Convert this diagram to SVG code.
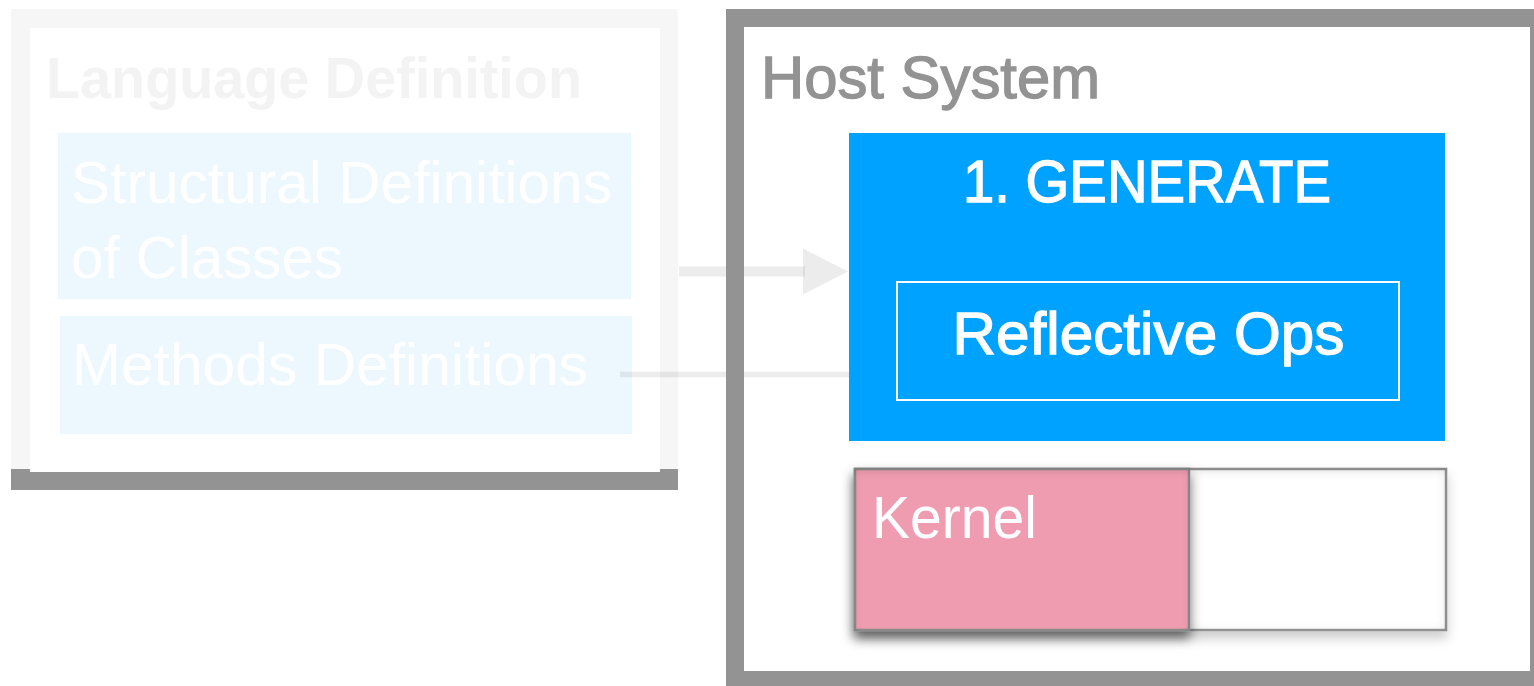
<svg xmlns="http://www.w3.org/2000/svg" width="1534" height="686" viewBox="0 0 1534 686">
  <defs>
    <style>
      .sans { font-family: "Liberation Sans", Arial, Helvetica, sans-serif; }
      .title { font-size: 58px; font-weight: bold; fill: #f3f3f3; }
      .host-title { font-size: 59px; fill: #939393; stroke: #939393; stroke-width: 1.3px; }
      .light { font-size: 58.5px; fill: #ffffff; }
      .mid { font-size: 59px; fill: #ffffff; stroke: #ffffff; stroke-width: 1.3px; }
      .defbox { fill: #ecf7fe; }
      .conn { stroke: #939393; stroke-opacity: 0.18; fill: none; }
    </style>
    <marker id="arrowhead" markerUnits="userSpaceOnUse" markerWidth="46" markerHeight="46"
            refX="2" refY="23" orient="auto" overflow="visible">
      <path d="M0,0 L45,23 L0,46 Z" fill="#939393" fill-opacity="0.18"/>
    </marker>
    <!-- drop shadow plus soft inner shadow for the kernel tiles -->
    <filter id="tileShadow" x="-10%" y="-20%" width="125%" height="150%">
      <feGaussianBlur in="SourceAlpha" stdDeviation="6" result="blur"/>
      <feOffset in="blur" dy="7" result="offBlur"/>
      <feFlood flood-color="#000" flood-opacity="0.2"/>
      <feComposite in2="offBlur" operator="in" result="drop"/>
      <feFlood flood-color="#000" flood-opacity="0.3" result="innerFlood"/>
      <feComposite in="innerFlood" in2="SourceAlpha" operator="out" result="outside"/>
      <feGaussianBlur in="outside" stdDeviation="6" result="innerBlur"/>
      <feOffset in="innerBlur" dy="2" result="innerOff"/>
      <feComposite in="innerOff" in2="SourceAlpha" operator="in" result="inner"/>
      <feMerge>
        <feMergeNode in="drop"/>
        <feMergeNode in="SourceGraphic"/>
        <feMergeNode in="inner"/>
      </feMerge>
    </filter>
    <filter id="kernelShadow" x="-15%" y="-20%" width="135%" height="160%">
      <feGaussianBlur in="SourceAlpha" stdDeviation="6" result="blur"/>
      <feOffset in="blur" dy="7" result="offBlur"/>
      <feFlood flood-color="#000" flood-opacity="0.55"/>
      <feComposite in2="offBlur" operator="in" result="drop"/>
      <feFlood flood-color="#000" flood-opacity="0.28" result="innerFlood"/>
      <feComposite in="innerFlood" in2="SourceAlpha" operator="out" result="outside"/>
      <feGaussianBlur in="outside" stdDeviation="5" result="innerBlur"/>
      <feOffset in="innerBlur" dy="3" result="innerOff"/>
      <feComposite in="innerOff" in2="SourceAlpha" operator="in" result="inner"/>
      <feMerge>
        <feMergeNode in="drop"/>
        <feMergeNode in="SourceGraphic"/>
        <feMergeNode in="inner"/>
      </feMerge>
    </filter>
  </defs>

  <rect width="1534" height="686" fill="#ffffff"/>

  <!-- Language Definition (faded) -->
  <g id="language-definition" class="sans">
    <rect x="11" y="9" width="667" height="481" fill="#f6f6f6"/>
    <rect x="11" y="469" width="667" height="21" fill="#939393"/>
    <rect x="30" y="28" width="630" height="444" fill="#ffffff"/>
    <text class="title" x="46" y="97.5" textLength="536" lengthAdjust="spacingAndGlyphs">Language Definition</text>
  </g>

  <g id="structural-definitions" class="sans">
    <rect class="defbox" x="58" y="133" width="573" height="166"/>
    <text class="light" x="71" y="203" textLength="541" lengthAdjust="spacingAndGlyphs">Structural Definitions</text>
    <text class="light" x="71" y="278" textLength="272" lengthAdjust="spacingAndGlyphs">of Classes</text>
  </g>

  <g id="methods-definitions" class="sans">
    <rect class="defbox" x="60" y="316" width="572" height="118"/>
    <text class="light" x="72" y="385" textLength="516" lengthAdjust="spacingAndGlyphs">Methods Definitions</text>
  </g>

  <!-- Host System -->
  <g id="host-system" class="sans">
    <rect x="726" y="9" width="820" height="690" fill="#939393"/>
    <rect x="744" y="27" width="786" height="644" fill="#ffffff"/>
    <text class="host-title" x="761" y="97.5" textLength="339" lengthAdjust="spacingAndGlyphs">Host System</text>
  </g>

  <g id="generate" class="sans">
    <rect x="849" y="133" width="596" height="308" fill="#00a2ff"/>
    <text class="mid" x="1147" y="201.5" text-anchor="middle" textLength="368" lengthAdjust="spacingAndGlyphs">1. GENERATE</text>
  </g>

  <g id="reflective-ops" class="sans">
    <rect x="897" y="282" width="502" height="118" fill="none" stroke="#ffffff" stroke-width="2"/>
    <text class="mid" x="1148.5" y="353.5" text-anchor="middle" textLength="392" lengthAdjust="spacingAndGlyphs">Reflective Ops</text>
  </g>

  <g id="kernel-slot">
    <rect x="855" y="469" width="591" height="161" fill="#ffffff" stroke="#999999" stroke-width="2.5" filter="url(#tileShadow)"/>
  </g>

  <g id="kernel" class="sans">
    <rect x="855" y="469" width="334" height="161" fill="#f09cb0" stroke="#8e8e8e" stroke-width="2.5" filter="url(#kernelShadow)"/>
    <text class="light" x="872" y="538" font-size="58" textLength="165" lengthAdjust="spacingAndGlyphs">Kernel</text>
  </g>

  <!-- connectors -->
  <g id="connectors">
    <line class="conn" x1="679" y1="271.5" x2="805" y2="271.5" stroke-width="10" marker-end="url(#arrowhead)"/>
    <line class="conn" x1="620" y1="374.5" x2="849" y2="374.5" stroke-width="5.5"/>
  </g>
</svg>
